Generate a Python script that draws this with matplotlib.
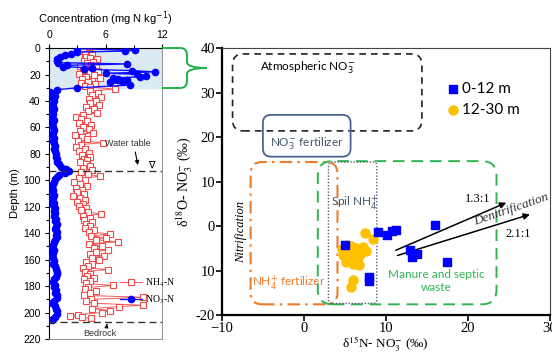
import matplotlib
matplotlib.use('Agg')
import matplotlib.pyplot as plt
from matplotlib.patches import FancyBboxPatch, PathPatch
from matplotlib.path import Path

# ---- left panel data: depth profile ----
no3_depth = [0.5, 1.5, 2.2, 3.0, 4.2, 5.5, 7.0, 8.5, 10.0, 11.0, 12.0, 13.0, 14.0, 15.0, 16.0,
             17.0, 18.0, 19.0, 19.8, 20.8, 21.7, 22.6, 23.5, 24.2, 25.0, 26.0, 28.0, 30.0, 31.5, 33.0,
             34, 36, 38, 40, 42, 44, 46, 48, 50, 52, 54, 56, 58, 60, 62, 64, 66, 68, 70, 72, 74, 76,
             78, 80, 82, 84, 86, 88, 90, 91.5, 93, 94.5, 96, 97.5, 99, 101, 103, 105, 107, 109, 111,
             113, 115, 117, 119, 121, 123, 125, 127, 129, 131, 133, 135, 137, 139, 141, 143, 145, 147,
             149, 151, 153, 155, 157, 159, 161, 163, 165, 167, 169, 171, 173, 175, 177, 179, 181, 183,
             185, 187, 189, 191, 193, 195, 197, 199, 201, 203, 205, 206]
no3_conc = [3.0, 9.1, 8.1, 3.0, 2.3, 1.7, 1.2, 0.9, 0.8, 1.0, 8.3, 1.9, 1.5, 4.6, 3.7,
            8.8, 11.3, 6.1, 9.3, 10.3, 9.7, 6.8, 7.3, 8.3, 7.7, 6.5, 8.6, 3.0, 0.8, 0.1,
            0.3, 0.6, 0.4, 0.5, 0.3, 0.4, 0.5, 0.3, 0.4, 0.3, 0.5, 0.4, 0.3, 0.4, 0.5, 0.4, 0.3, 0.5,
            0.4, 0.5, 0.6, 0.5, 0.6, 0.7, 0.7, 0.8, 0.9, 1.1, 1.3, 1.8, 2.1, 1.7, 1.1, 0.8, 0.6, 0.5,
            0.4, 0.3, 0.4, 0.3, 0.5, 0.4, 0.3, 0.5, 0.4, 0.6, 0.5, 0.6, 0.5, 0.7, 0.6, 0.8, 0.7, 0.6,
            0.8, 0.7, 0.9, 0.6, 0.5, 0.4, 0.3, 0.5, 0.4, 0.3, 0.4, 0.5, 0.4, 0.6, 0.7, 0.8, 0.9, 0.7,
            0.5, 0.4, 0.6, 0.5, 0.7, 0.6, 0.8, 0.9, 0.5, 0.3, 0.6, 0.7, 0.8, 0.9, 0.6, 0.4, 0.3]

nh4_depth = [0.5, 1.5, 2.5, 3.5, 4.5, 5.5, 6.5, 7.5, 8.5, 9.5, 10.5, 11.5, 12.5, 13.5, 14.5, 15.5,
             16.5, 17.5, 18.5, 19.5, 20.5, 21.5, 22.5, 23.5, 24.5, 25.5, 26.5, 27.5, 28.5, 29.5,
             31, 32.5, 34, 35.5, 37, 38.5, 40, 41.5, 43, 44.5, 46, 47.5, 49, 50.5, 52, 53.5, 55, 56.5,
             58, 59.5, 61, 62.5, 64, 65.5, 67, 68.5, 70, 71.5, 73, 74.5, 76, 77.5, 79, 80.5, 82, 83.5,
             85, 86.5, 88, 89.5, 91, 92.5, 94, 95.5, 97, 98.5, 100, 101.5, 103, 104.5, 106, 107.5, 109,
             110.5, 112, 113.5, 115, 116.5, 118, 119.5, 121, 122.5, 124, 125.5, 127, 128.5, 130, 131.5,
             133, 134.5, 136, 137.5, 139, 140.5, 142, 143.5, 145, 146.5, 148, 149.5, 151, 152.5, 154,
             155.5, 157, 158.5, 160, 161.5, 163, 164.5, 166, 167.5, 169, 170.5, 172, 173.5, 175, 176.5,
             178, 179.5, 181, 182.5, 184, 185.5, 187, 188.5, 190, 191.5, 193, 194.5, 195.5, 197, 198.5,
             200, 201.5, 202.5, 203.5, 204.5]
nh4_conc = [3.5, 4.0, 3.6, 4.3, 3.8, 4.6, 3.9, 4.4, 5.1, 3.7, 4.7, 4.0, 4.5, 3.3, 5.0, 4.2,
            3.6, 5.2, 4.4, 3.2, 4.8, 3.9, 5.4, 3.5, 4.6, 4.1, 3.4, 4.9, 3.8, 4.4,
            7.0, 4.3, 5.2, 4.6, 5.5, 4.2, 5.0, 4.4, 5.3, 3.9, 4.8, 4.1, 5.1, 3.6, 2.9, 3.4, 4.0, 3.2,
            4.5, 3.6, 4.2, 3.3, 4.7, 2.8, 3.5, 4.0, 3.1, 5.7, 3.4, 2.9, 3.8, 3.2, 4.2, 3.5, 4.4, 3.7,
            4.0, 3.3, 3.9, 4.3, 3.6, 4.6, 3.4, 4.1, 5.4, 3.2, 3.8, 2.7, 3.3, 4.0, 2.9, 3.5, 3.0,
            3.7, 2.6, 3.3, 3.8, 3.0, 3.6, 3.2, 3.9, 3.4, 4.1, 5.5, 3.6, 4.3, 3.7, 4.6,
            3.9, 4.4, 3.8, 4.8, 4.2, 6.5, 4.5, 6.0, 5.0, 7.3, 4.2, 5.6, 4.8, 6.3, 5.0,
            4.3, 5.8, 4.6, 5.3, 3.9, 4.6, 4.1, 3.6, 6.3, 3.8, 4.4, 4.0, 4.8, 3.7, 4.3,
            3.9, 6.8, 4.1, 3.8, 5.0, 4.4, 3.7, 10.0, 4.5, 3.9, 4.8, 10.0, 7.4, 4.6, 6.5,
            5.6, 3.1, 2.2, 3.5, 4.5]

water_table = 93
bedrock = 207

# ---- right panel data: isotopes ----
shallow_n15 = [9.0, 10.2, 10.7, 11.2, 16.0, 13.0, 13.2, 13.8, 17.4, 7.9, 8.0, 5.0]
shallow_o18 = [-1.3, -2.0, -1.1, -0.9, 0.3, -5.3, -6.9, -6.2, -8.0, -11.4, -12.3, -4.2]
deep_n15 = [4.6, 5.2, 5.4, 5.8, 6.3, 6.6, 5.1, 6.0, 6.7, 7.2, 7.4, 8.4, 6.9, 6.0, 5.8, 5.7, 4.8, 7.6]
deep_o18 = [-5.2, -4.3, -6.0, -6.8, -5.0, -7.2, -8.0, -8.6, -8.8, -4.8, -1.6, -2.8, -6.3, -12.2,
            -13.8, -4.5, -6.5, -5.6]

serif = 'Liberation Serif'
sans = 'Liberation Sans'
calib = 'Lato'

fig = plt.figure(figsize=(5.52, 3.53), dpi=100)

# ================= left panel =================
axl = fig.add_axes([0.0888, 0.0397, 0.2047, 0.824])
axl.axhspan(0, 30, color='#dceaf4', zorder=0)
axl.plot(nh4_conc, nh4_depth, color='#f25c5c', lw=0.7, marker='s', ms=4,
         mfc='white', mec='#f04a4a', mew=0.8, label='NH$_4$-N', zorder=2)
axl.plot(no3_conc, no3_depth, color='#1010ff', lw=1.0, marker='o', ms=4.5,
         mfc='#0000ff', mec='#0000ff', label='NO$_3$-N', zorder=3)
axl.axhline(water_table, color='#333333', lw=1, ls=(0, (5, 3)), zorder=4)
axl.axhline(bedrock, color='#333333', lw=1, ls=(0, (5, 3)), zorder=4)
axl.set_xlim(0, 12)
axl.set_ylim(220, 0)
axl.xaxis.tick_top()
axl.xaxis.set_label_position('top')
axl.set_xticks([0, 6, 12])
axl.set_xticks([3, 9], minor=True)
axl.set_yticks(range(0, 221, 20))
axl.set_yticks(range(10, 220, 20), minor=True)
axl.tick_params(labelsize=7.5, length=3, width=0.8, pad=3)
axl.tick_params(which='minor', length=2, width=0.8)
for t in axl.get_xticklabels() + axl.get_yticklabels():
    t.set_family(sans)
axl.set_xlabel('Concentration (mg N kg$^{-1}$)', fontsize=8, family=sans, labelpad=5)
axl.set_ylabel('Depth (m)', fontsize=8, family=sans, labelpad=2)
axl.spines['right'].set_color('#999999')
axl.spines['bottom'].set_color('#999999')

axl.text(8.4, 72.5, 'Water table', fontsize=6.5, family=sans, ha='center', va='center', color='#333333')
axl.annotate('', xy=(9.5, 90.5), xytext=(9.1, 76.5),
             arrowprops=dict(arrowstyle='-|>', color='black', lw=0.8, mutation_scale=6))
axl.text(10.9, 88, '\u2207', fontsize=7, ha='center', va='center', family='DejaVu Sans')
axl.text(5.4, 215.5, 'Bedrock', fontsize=6.5, family=sans, ha='center', va='center', color='#333333')
axl.annotate('', xy=(6.2, 206.5), xytext=(6.1, 211.5),
             arrowprops=dict(arrowstyle='-|>', color='black', lw=0.8, mutation_scale=5))
axl.legend(loc='upper left', bbox_to_anchor=(0.55, 0.245), frameon=False, handlelength=2.3,
           handletextpad=0.3, labelspacing=0.5,
           prop={'family': serif, 'size': 7, 'math_fontfamily': 'stix'})

# ================= right panel =================
axr = fig.add_axes([0.402, 0.1076, 0.594, 0.756])
axr.set_xlim(-10, 30)
axr.set_ylim(-20, 40)
asp = (267 / 60) / (328 / 40)


def rbox(x0, y0, x1, y1, r, **kw):
    p = FancyBboxPatch((x0, y0), x1 - x0, y1 - y0,
                       boxstyle='round,pad=0,rounding_size=%g' % r,
                       mutation_aspect=1 / asp, fill=False, **kw)
    axr.add_patch(p)


green = '#2fb550'
orange = '#ee7d2a'
slate = '#44546a'
rbox(-8.7, 21.4, 14.4, 38.7, 1.3, ec='#222222', lw=1.2, ls=(0, (4, 3)))
rbox(-5.0, 15.6, 5.7, 25.0, 1.0, ec='#4a6391', lw=1.3)
rbox(-6.5, -17.6, 4.1, 14.4, 1.4, ec=orange, lw=1.5, ls=(0, (6, 2.5, 1.2, 2.5)))
rbox(1.7, -17.6, 23.5, 14.6, 1.8, ec=green, lw=1.4, ls=(0, (6, 3.5)))
rbox(3.0, -17.4, 8.9, 14.4, 0.5, ec='#556070', lw=1.0, ls=(0, (1, 1.3)))

axr.text(0.5, 35.5, 'Atmospheric NO$_3^{-}$', fontsize=8.5, family=calib, ha='center', va='center')
axr.text(0.4, 18.6, 'NO$_3^{-}$ fertilizer', fontsize=8.5, family=calib, ha='center', va='center',
         color=slate)
axr.text(3.3, 5.3, 'Spil NH$_4^{+}$', fontsize=8.5, family=calib, ha='left', va='center', color=slate)
axr.text(-6.3, -12.7, 'NH$_4^{+}$ fertilizer', fontsize=8.5, family=calib, ha='left', va='center',
         color=orange)
axr.text(16.2, -12.3, 'Manure and septic\nwaste', fontsize=8.5, family=calib, ha='center',
         va='center', color=green, linespacing=1.2)
axr.text(-7.7, -1.3, 'Nitrification', fontsize=9, family=serif, style='italic', rotation=90,
         ha='center', va='center')

axr.scatter(shallow_n15, shallow_o18, s=30, marker='s', color='#0000ff', zorder=5, label='0-12 m')
axr.scatter(deep_n15, deep_o18, s=42, marker='o', color='#ffc000', zorder=4, label='12-30 m')

axr.annotate('', xy=(25.0, 5.5), xytext=(10.9, -5.7),
             arrowprops=dict(arrowstyle='-|>', color='black', lw=1.1, mutation_scale=9))
axr.annotate('', xy=(27.9, 2.8), xytext=(11.1, -6.8),
             arrowprops=dict(arrowstyle='-|>', color='black', lw=1.1, mutation_scale=9))
axr.text(21.2, 6.0, '1.3:1', fontsize=9, family=serif, ha='center', va='center')
axr.text(26.1, -1.8, '2.1:1', fontsize=9, family=serif, ha='center', va='center')
axr.text(25.3, 3.6, 'Denitrification', fontsize=9.5, family=serif, style='italic', rotation=19,
         ha='center', va='center', color='#333333')

axr.set_xticks([-10, 0, 10, 20, 30])
axr.set_yticks([-20, -10, 0, 10, 20, 30, 40])
axr.set_yticklabels(['-20', '10', '0', '10', '20', '30', '40'])
axr.tick_params(labelsize=10.5, length=4, width=1.2, direction='out', pad=1)
for t in axr.get_xticklabels() + axr.get_yticklabels():
    t.set_family(serif)
axr.set_xlabel('\u03b4$^{15}$N- NO$_3^{-}$ (\u2030)', fontsize=9.5, family=serif, labelpad=-0.5,
               math_fontfamily='stix')
axr.set_ylabel('\u03b4$^{18}$O- NO$_3^{-}$ (\u2030)', fontsize=10, family=serif, labelpad=1,
               math_fontfamily='stix')
axr.spines['left'].set_linewidth(1.6)
axr.spines['bottom'].set_linewidth(1.6)
axr.spines['top'].set_color('#444444')
axr.spines['right'].set_color('#444444')
axr.legend(loc='upper left', bbox_to_anchor=(0.64, 0.925), frameon=False, handletextpad=0.1,
           handlelength=1.0, labelspacing=0.45, prop={'family': calib, 'size': 11})

# ---- green brace linking the shaded band to the right panel ----
W, H = 552.0, 353.0
pts = [(162, 48), (180, 48), (187, 48), (187, 55), (187, 62), (187, 68), (207, 68),
       (187, 68), (187, 74), (187, 81), (187, 88), (180, 88), (162, 88)]
codes = [Path.MOVETO, Path.LINETO, Path.CURVE3, Path.CURVE3, Path.LINETO, Path.CURVE3, Path.CURVE3,
         Path.CURVE3, Path.CURVE3, Path.LINETO, Path.CURVE3, Path.CURVE3, Path.LINETO]
brace = Path([(x / W, 1 - y / H) for x, y in pts], codes)
fig.add_artist(PathPatch(brace, transform=fig.transFigure, fill=False, ec='#22b14c', lw=1.4))

fig.savefig('out.png', dpi=100)
